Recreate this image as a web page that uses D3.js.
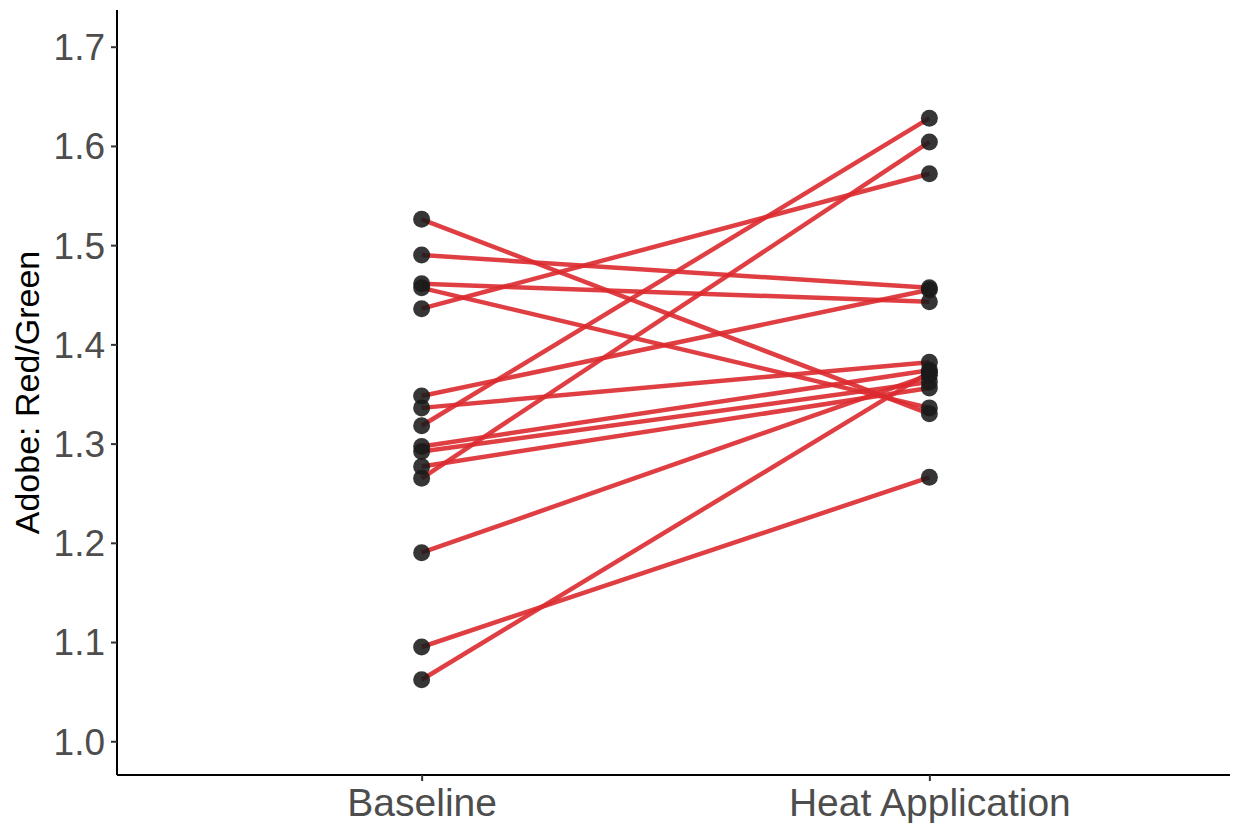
<!DOCTYPE html>
<html>
<head>
<meta charset="utf-8">
<script src="https://cdn.jsdelivr.net/npm/d3@7"></script>
<style>
  body { margin: 0; background: #fff; }
  text { font-family: "Liberation Sans", Arial, sans-serif; }
</style>
</head>
<body>
<svg width="1238" height="823"></svg>
<script>
// chart data
const conditions = ["Baseline", "Heat Application"]
const baseline = [1.526, 1.490, 1.461, 1.457, 1.436, 1.348, 1.336, 1.318, 1.297, 1.292, 1.277, 1.265, 1.190, 1.095, 1.062]
const heat     = [1.330, 1.457, 1.443, 1.336, 1.572, 1.455, 1.382, 1.628, 1.374, 1.362, 1.356, 1.604, 1.369, 1.266, 1.372]
const yTicks = [1.0, 1.1, 1.2, 1.3, 1.4, 1.5, 1.6, 1.7]

const svg = d3.select("svg")

// plot panel edges
const panelLeft = 117, panelRight = 1230, panelTop = 10, panelBottom = 775

const x = d3.scalePoint()
  .domain(conditions)
  .range([panelLeft, panelRight + 4])
  .padding(0.6)

const y = d3.scaleLinear()
  .domain([0.966, 1.737])
  .range([panelBottom, panelTop])

// pairs of points for each subject
const pairs = baseline.map((b, i) => [
  {cond: conditions[0], val: b},
  {cond: conditions[1], val: heat[i]}
])

const line = d3.line()
  .x(d => x(d.cond))
  .y(d => y(d.val))

svg.append("g")
  .selectAll("path")
  .data(pairs)
  .join("path")
  .attr("d", line)
  .attr("fill", "none")
  .attr("stroke", "#dc2a2f")
  .attr("stroke-opacity", 0.9)
  .attr("stroke-width", 4.5)

const pts = pairs.flat()
svg.append("g")
  .selectAll("circle")
  .data(pts)
  .join("circle")
  .attr("cx", d => x(d.cond))
  .attr("cy", d => y(d.val))
  .attr("r", 8.5)
  .attr("fill", "#1a1a1a")
  .attr("fill-opacity", 0.88)

// axes
const yAxis = d3.axisLeft(y)
  .tickValues(yTicks)
  .tickFormat(d3.format(".1f"))
  .tickSize(6)
  .tickPadding(6)

const yg = svg.append("g")
  .attr("transform", "translate(" + panelLeft + ",0)")
  .call(yAxis)
yg.select(".domain").attr("d", "M0," + panelTop + "V" + panelBottom).attr("stroke", "#000").attr("stroke-width", 2)
yg.selectAll(".tick line").attr("stroke", "#333").attr("stroke-width", 2)
yg.selectAll("text")
  .attr("font-size", 37)
  .attr("fill", "#4d4d4d")
  .attr("dy", "0.35em")

const xAxis = d3.axisBottom(x)
  .tickSize(6)
  .tickPadding(7)

const xg = svg.append("g")
  .attr("transform", "translate(0," + panelBottom + ")")
  .call(xAxis)
xg.select(".domain").attr("d", "M" + panelLeft + ",0H" + panelRight).attr("stroke", "#000").attr("stroke-width", 2)
xg.selectAll(".tick line").attr("stroke", "#333").attr("stroke-width", 2)
xg.selectAll("text")
  .attr("font-size", 39)
  .attr("fill", "#4d4d4d")

// y axis title
svg.append("text")
  .attr("transform", "translate(39," + ((panelTop + panelBottom) / 2) + ") rotate(-90)")
  .attr("text-anchor", "middle")
  .attr("font-size", 34)
  .attr("fill", "#000")
  .text("Adobe: Red/Green")
</script>
</body>
</html>
